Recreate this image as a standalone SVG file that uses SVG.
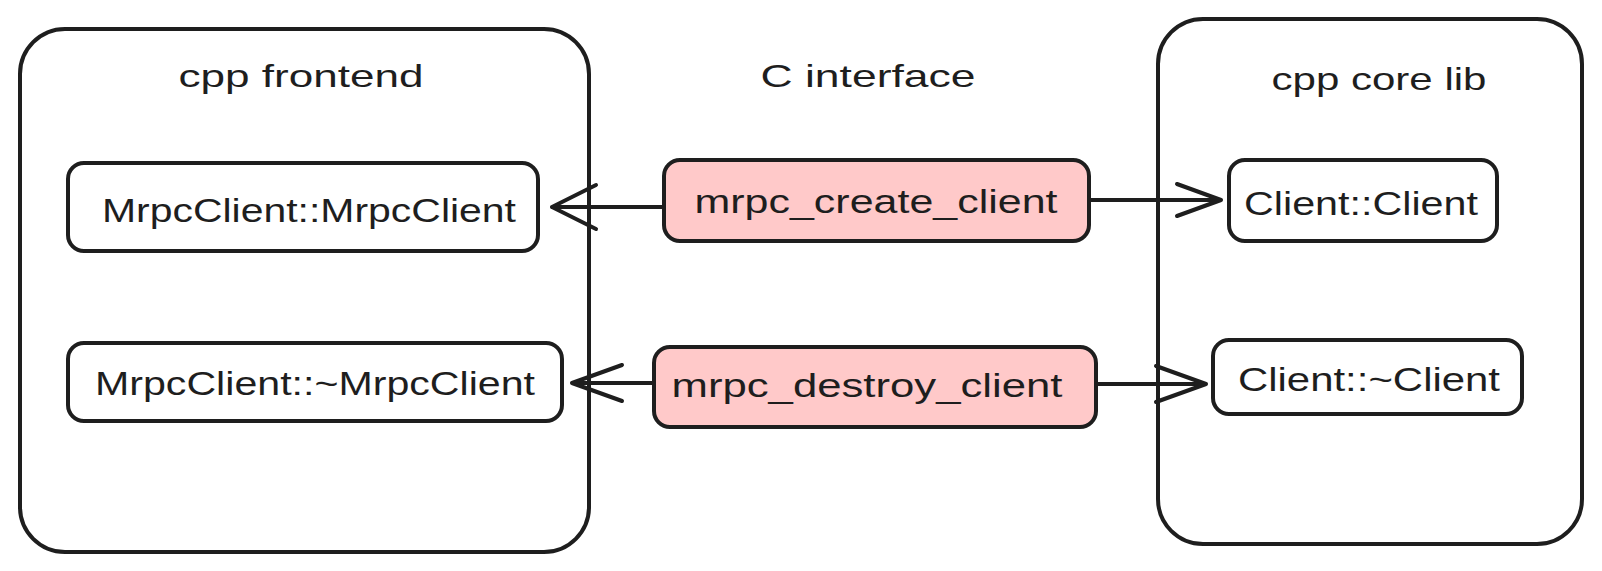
<svg xmlns="http://www.w3.org/2000/svg" width="1602" height="571" viewBox="0 0 1602 571">
<style>
.box{fill:none;stroke:#1e1e1e;stroke-width:4}
.nb{fill:#ffffff;stroke:#1e1e1e;stroke-width:4}
.pk{fill:#ffc9c9;stroke:#1e1e1e;stroke-width:4}
.t{font-family:"Liberation Sans","DejaVu Sans",sans-serif;fill:#1e1e1e;text-anchor:middle}
.tt{font-size:32px}
.tn{font-size:34px}
.ln{fill:none;stroke:#1e1e1e;stroke-width:4;stroke-linecap:round;stroke-linejoin:round}
</style>
<rect width="1602" height="571" fill="#ffffff"/>
<g id="cpp-frontend">
<rect class="box" x="20" y="29" width="569" height="523" rx="45"/>
<text class="t tt" x="301" y="87" textLength="245" lengthAdjust="spacingAndGlyphs">cpp frontend</text>
</g>
<g id="c-interface">
<text class="t tt" x="868" y="87" textLength="215" lengthAdjust="spacingAndGlyphs">C interface</text>
</g>
<g id="cpp-core-lib">
<rect class="box" x="1158" y="19" width="424" height="525" rx="45"/>
<text class="t tt" x="1379" y="90" textLength="215" lengthAdjust="spacingAndGlyphs">cpp core lib</text>
</g>
<g id="connectors">
<path class="ln" d="M664 207 L552 207 M552 207 L596 185 M552 207 L596 229"/>
<path class="ln" d="M1089 200 L1221 200 M1221 200 L1177 184 M1221 200 L1177 216"/>
<path class="ln" d="M654 383 L572 383 M572 383 L622 365 M572 383 L622 401"/>
<path class="ln" d="M1096 384 L1206 384 M1206 384 L1156 366 M1206 384 L1156 402"/>
</g>
<g id="mrpcclient-ctor">
<rect class="nb" x="68" y="163" width="470" height="88" rx="16"/>
<text class="t tn" x="309" y="222" textLength="414" lengthAdjust="spacingAndGlyphs">MrpcClient::MrpcClient</text>
</g>
<g id="mrpcclient-dtor">
<rect class="nb" x="68" y="343" width="494" height="78" rx="16"/>
<text class="t tn" x="315" y="395" textLength="440" lengthAdjust="spacingAndGlyphs">MrpcClient::~MrpcClient</text>
</g>
<g id="mrpc-create-client">
<rect class="pk" x="664" y="160" width="425" height="81" rx="16"/>
<text class="t tn" x="876" y="213" textLength="363" lengthAdjust="spacingAndGlyphs">mrpc_create_client</text>
</g>
<g id="mrpc-destroy-client">
<rect class="pk" x="654" y="347" width="442" height="80" rx="16"/>
<text class="t tn" x="867" y="397" textLength="391" lengthAdjust="spacingAndGlyphs">mrpc_destroy_client</text>
</g>
<g id="client-ctor">
<rect class="nb" x="1229" y="160" width="268" height="81" rx="16"/>
<text class="t tn" x="1361" y="215" textLength="234" lengthAdjust="spacingAndGlyphs">Client::Client</text>
</g>
<g id="client-dtor">
<rect class="nb" x="1213" y="340" width="309" height="74" rx="16"/>
<text class="t tn" x="1369" y="391" textLength="262" lengthAdjust="spacingAndGlyphs">Client::~Client</text>
</g>
</svg>
